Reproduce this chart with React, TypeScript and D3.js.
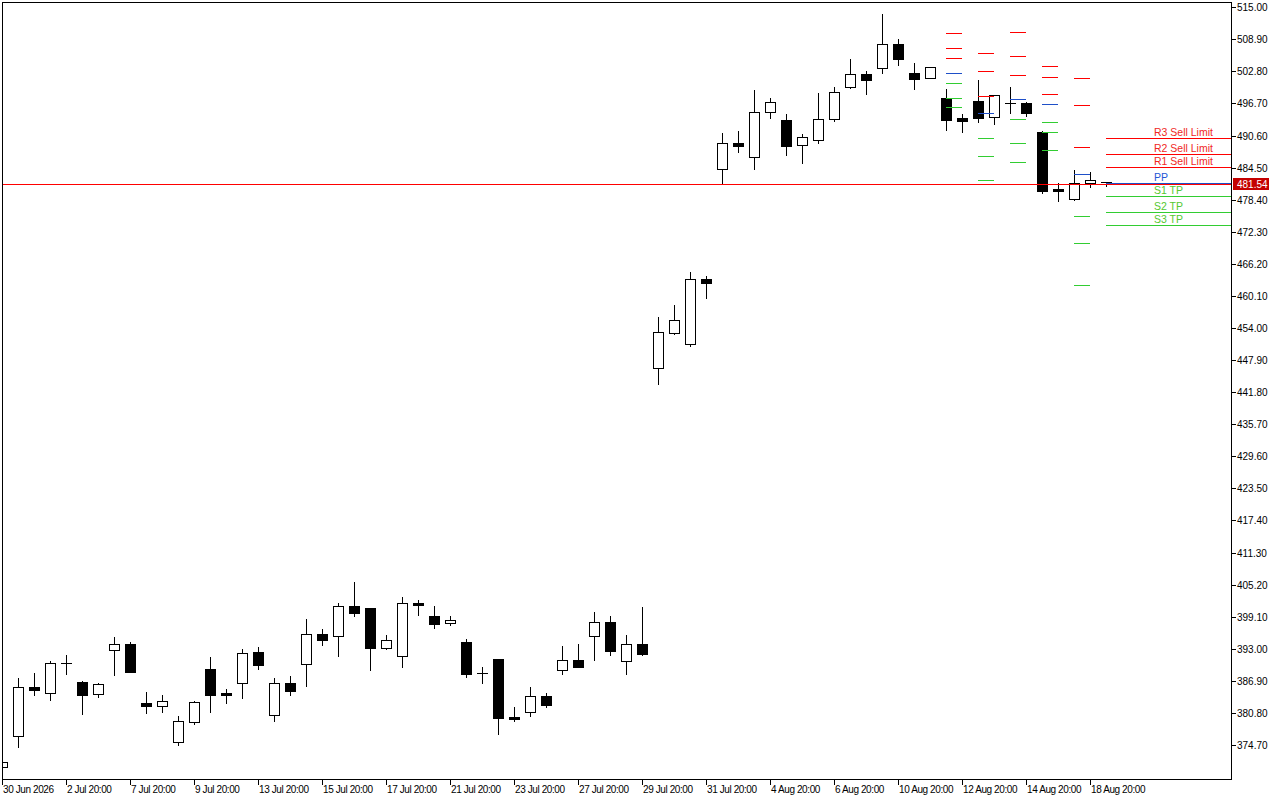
import React from "react";
import * as d3 from "d3";

// ---- Data ----
const candleIndex = [-1, 0, 1, 2, 3, 4, 5, 6, 7, 8, 9, 10, 11, 12, 13, 14, 15, 16, 17, 18, 19, 20, 21, 22, 23, 24, 25, 26, 27, 28, 29, 30, 31, 32, 33, 34, 35, 36, 37, 38, 39, 40, 41, 42, 43, 44, 45, 46, 47, 48, 49, 50, 51, 52, 53, 54, 55, 56, 57, 58, 59, 60, 61, 62, 63, 64, 65, 66, 67, 68];
const opens = [370.5, 376.35, 385.67, 384.53, 390.2, 386.68, 384.34, 392.71, 393.85, 382.63, 382.17, 375.33, 379.13, 389.15, 384.59, 386.55, 392.39, 380.35, 386.43, 390.04, 395.75, 395.48, 401.08, 400.7, 393.2, 391.68, 401.7, 399.17, 397.96, 394.23, 388.3, 391.05, 380.02, 381.03, 383.96, 388.9, 390.81, 395.48, 398.03, 390.62, 393.85, 446.34, 453.0, 450.91, 463.27, 484.19, 489.13, 486.47, 495.03, 493.51, 488.75, 489.7, 493.7, 499.78, 502.26, 503.4, 507.96, 502.45, 501.5, 497.69, 493.85, 497.18, 494.08, 496.7, 496.74, 491.23, 480.39, 478.48, 481.58, 481.75];
const highs = [371.6, 387.44, 388.33, 390.67, 391.81, 386.87, 386.43, 395.24, 394.29, 384.72, 384.21, 380.21, 383.07, 391.44, 385.29, 392.96, 393.34, 387.44, 387.82, 398.66, 396.7, 401.65, 405.7, 400.8, 395.62, 402.85, 402.28, 401.13, 399.17, 394.86, 389.53, 391.1, 381.92, 385.73, 384.53, 393.53, 393.91, 399.99, 399.17, 395.62, 400.89, 456.04, 458.38, 464.6, 463.84, 491.04, 491.47, 499.27, 497.75, 494.65, 490.85, 498.7, 499.78, 505.11, 502.83, 513.67, 508.91, 504.35, 503.6, 499.46, 494.71, 501.17, 498.3, 499.84, 496.93, 491.42, 481.53, 484.06, 483.68, 481.85];
const lows = [370.3, 374.38, 384.26, 383.31, 388.26, 380.59, 383.77, 388.01, 388.5, 380.78, 380.97, 374.7, 378.69, 380.97, 382.74, 383.69, 389.21, 379.32, 384.21, 385.92, 393.77, 391.68, 399.29, 389.02, 393.01, 389.53, 399.42, 396.95, 397.52, 387.63, 386.55, 376.85, 379.32, 380.27, 381.98, 388.26, 389.5, 390.92, 391.87, 388.26, 391.87, 443.41, 452.9, 450.53, 459.77, 481.39, 487.54, 484.3, 494.0, 486.97, 485.44, 489.25, 493.43, 499.6, 498.57, 502.56, 504.08, 499.52, 501.5, 491.72, 491.34, 493.19, 492.86, 494.95, 494.38, 479.74, 478.22, 478.4, 480.88, 481.1];
const closes = [371.4, 385.67, 385.1, 390.23, 390.3, 384.26, 386.24, 393.85, 388.64, 382.17, 383.01, 379.2, 382.82, 384.26, 384.26, 392.14, 389.97, 386.43, 385.02, 395.75, 394.67, 401.08, 399.86, 393.2, 394.61, 401.65, 401.38, 397.77, 398.41, 388.26, 388.2, 379.89, 379.7, 383.96, 382.36, 390.81, 389.59, 398.03, 392.63, 393.85, 392.06, 453.19, 455.47, 463.27, 462.51, 489.13, 488.68, 495.03, 496.93, 488.68, 490.28, 493.7, 498.83, 502.26, 501.23, 507.96, 505.22, 501.42, 503.59, 493.62, 493.45, 494.0, 498.26, 496.8, 494.95, 480.12, 480.12, 481.53, 482.1, 481.54];

// Past daily pivot levels: start candle index, then R3,R2,R1,PP,S1,S2,S3
const pivotStart = [58, 60, 62, 64, 66];
const pivotR3 = [510.06, 506.25, 510.25, 503.78, 501.5];
const pivotR2 = [507.2, 502.83, 505.68, 501.69, 496.36];
const pivotR1 = [505.3, 498.07, 502.07, 498.45, 488.43];
const pivotPP = [502.45, 494.84, 497.5, 496.55, 483.24];
const pivotS1 = [500.55, 490.09, 493.7, 493.13, 475.25];
const pivotS2 = [497.69, 486.66, 489.13, 491.23, 470.12];
const pivotS3 = [495.98, 482.1, 485.52, 487.8, 462.13];

// Current levels (labelled)
const levelNames = ["R3 Sell Limit", "R2 Sell Limit", "R1 Sell Limit", "PP", "S1 TP", "S2 TP", "S3 TP"];
const levelValues = [490.14, 487.04, 484.57, 481.53, 479.05, 476.01, 473.54];
const levelKinds = ["r", "r", "r", "p", "s", "s", "s"];
const levelStart = 68;

const currentPrice = 481.54;

const yTickValues = [374.7, 380.8, 386.9, 393.0, 399.1, 405.2, 411.3, 417.4, 423.5, 429.6, 435.7, 441.8, 447.9, 454.0, 460.1, 466.2, 472.3, 478.4, 484.5, 490.6, 496.7, 502.8, 508.9, 515.0];
const xTickIndex = [-1, 3, 7, 11, 15, 19, 23, 27, 31, 35, 39, 43, 47, 51, 55, 59, 63, 67];
const xTickLabels = ["30 Jun 2026", "2 Jul 20:00", "7 Jul 20:00", "9 Jul 20:00", "13 Jul 20:00", "15 Jul 20:00", "17 Jul 20:00", "21 Jul 20:00", "23 Jul 20:00", "27 Jul 20:00", "29 Jul 20:00", "31 Jul 20:00", "4 Aug 20:00", "6 Aug 20:00", "10 Aug 20:00", "12 Aug 20:00", "14 Aug 20:00", "18 Aug 20:00"];

// ---- Layout ----
const W = 1280;
const H = 800;
const left = 2;
const top = 2;
const right = 1231;
const bottom = 779;
const FONT = "'Liberation Sans', Arial, sans-serif";

const RED = "#FF0000";
const GREEN = "#32CD32";
const BLUE = "#1E4FC8";

const x = d3.scaleLinear().domain([-1, 68]).range([2, 1106]);
const y = d3.scaleLinear().domain([368.23, 516.0]).range([bottom, top]);

const px = (v: number) => Math.round(v) + 0.5;

const kindColor = (k: string) => (k === "r" ? RED : k === "p" ? BLUE : GREEN);
const labelColor = (k: string) => (k === "r" ? "#F0281E" : k === "p" ? "#2457D6" : "#55C830");

export default function App() {
  const candles = candleIndex.map((idx, i) => ({
    idx,
    o: opens[i],
    h: highs[i],
    l: lows[i],
    c: closes[i],
  }));

  const pivotSets = pivotStart.map((s, i) => [
    { v: pivotR3[i], k: "r" },
    { v: pivotR2[i], k: "r" },
    { v: pivotR1[i], k: "r" },
    { v: pivotPP[i], k: "p" },
    { v: pivotS1[i], k: "s" },
    { v: pivotS2[i], k: "s" },
    { v: pivotS3[i], k: "s" },
  ].map((d) => ({ ...d, s })));

  const priceRow = Math.round(y(currentPrice)) + 1;

  return (
    <div style={{ position: "fixed", left: 0, top: 0, width: W, height: H, background: "#fff" }}>
      <svg width={W} height={H} style={{ display: "block" }} shapeRendering="crispEdges">
        <defs>
          <clipPath id="plot">
            <rect x={left + 1} y={top + 1} width={right - left - 1} height={bottom - top - 1} />
          </clipPath>
        </defs>
        <rect x={0} y={0} width={W} height={H} fill="#fff" />

        <g clipPath="url(#plot)">
          {/* candles */}
          {candles.map((d) => {
            const cx = Math.round(x(d.idx));
            const bull = d.c >= d.o;
            const yTop = Math.round(y(Math.max(d.o, d.c)));
            let yBot = Math.round(y(Math.min(d.o, d.c)));
            if (yBot - yTop < 1) yBot = yTop + 1;
            return (
              <g key={d.idx}>
                <line x1={cx + 0.5} x2={cx + 0.5} y1={Math.round(y(d.h))} y2={Math.round(y(d.l)) + 1} stroke="#000" strokeWidth={1} />
                {yBot - yTop <= 1 ? (
                  <rect x={cx - 5} y={yTop} width={11} height={Math.max(1, yBot - yTop)} fill="#000" />
                ) : (
                  <rect
                    x={cx - 4.5}
                    y={yTop + 0.5}
                    width={10}
                    height={yBot - yTop}
                    fill={bull ? "#fff" : "#000"}
                    stroke="#000"
                    strokeWidth={1}
                  />
                )}
              </g>
            );
          })}

          {/* current price line */}
          <rect x={left} y={priceRow} width={right - left} height={1} fill={RED} />

          {/* past pivot dashes */}
          {pivotSets.map((set, i) =>
            set.map((d, j) => (
              <line
                key={`p${i}-${j}`}
                x1={Math.round(x(d.s))}
                x2={Math.round(x(d.s + 1))}
                y1={px(y(d.v))}
                y2={px(y(d.v))}
                stroke={kindColor(d.k)}
                strokeWidth={1}
              />
            ))
          )}

          {/* current levels */}
          {levelValues.map((v, i) => (
            <g key={`l${i}`}>
              <line
                x1={Math.round(x(levelStart))}
                x2={right}
                y1={px(y(v))}
                y2={px(y(v))}
                stroke={kindColor(levelKinds[i])}
                strokeWidth={1}
              />
              <text
                x={1154}
                y={Math.round(y(v)) - 2}
                fontFamily={FONT}
                fontSize={10.5}
                fill={labelColor(levelKinds[i])}
                shapeRendering="auto"
              >
                {levelNames[i]}
              </text>
            </g>
          ))}
        </g>

        {/* frame */}
        <rect x={left + 0.5} y={top + 0.5} width={right - left} height={bottom - top} fill="none" stroke="#000" strokeWidth={1} />

        {/* y axis */}
        {yTickValues.map((v) => (
          <g key={`y${v}`}>
            <line x1={right} x2={right + 5} y1={px(y(v))} y2={px(y(v))} stroke="#000" strokeWidth={1} />
            <text x={right + 6} y={Math.round(y(v))} dy="0.35em" fontFamily={FONT} fontSize={10} fill="#000">
              {v.toFixed(2)}
            </text>
          </g>
        ))}

        {/* current price tag */}
        <rect x={1233} y={priceRow - 6} width={36} height={12} fill="#C40000" />
        <text x={1237} y={priceRow} dy="0.35em" fontFamily={FONT} fontSize={10} fill="#fff">
          {currentPrice.toFixed(2)}
        </text>

        {/* x axis */}
        {xTickIndex.map((idx, i) => (
          <g key={`x${idx}`}>
            <line x1={px(x(idx))} x2={px(x(idx))} y1={bottom} y2={bottom + 6} stroke="#000" strokeWidth={1} />
            <text x={Math.round(x(idx)) + 1} y={793} fontFamily={FONT} fontSize={10} letterSpacing={-0.4} fill="#000">
              {xTickLabels[i]}
            </text>
          </g>
        ))}
      </svg>
    </div>
  );
}
